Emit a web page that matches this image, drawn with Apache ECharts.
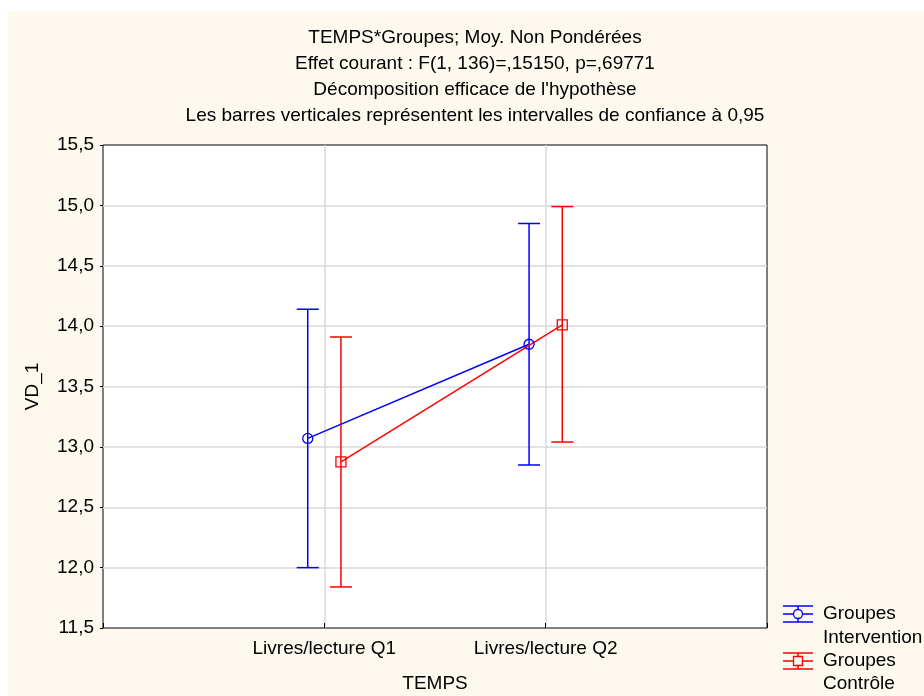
<!DOCTYPE html>
<html>
<head>
<meta charset="utf-8">
<script src="https://cdn.jsdelivr.net/npm/echarts@6/dist/echarts.min.js"></script>
<style>
  html, body { margin: 0; padding: 0; background: #ffffff; }
  #chart { width: 924px; height: 696px; }
</style>
</head>
<body>
<div id="chart"></div>
<script>
// Factor levels on the TEMPS axis
const categories = ['Livres/lecture Q1', 'Livres/lecture Q2'];

// Groupes Intervention: means and 95% confidence limits
const interventionMean = [13.07, 13.85];
const interventionLow  = [12.00, 12.85];
const interventionHigh = [14.14, 14.85];

// Groupes Contrôle: means and 95% confidence limits
const controleMean = [12.875, 14.01];
const controleLow  = [11.84, 13.04];
const controleHigh = [13.91, 14.99];

// Y axis range
const yMin = 11.5, yMax = 15.5, yStep = 0.5;

const FONT = '"Liberation Sans", Arial, sans-serif';
const FS = 19;
const BLUE = '#0000ff';
const RED = '#ff0000';
const dodge = 0.075; // horizontal shift of each group around its category

function meanPoints(means, shift) {
  return means.map((v, i) => [i + 1 + shift, v]);
}
function ciPoints(low, high, shift) {
  return low.map((lo, i) => [i + 1 + shift, lo, high[i]]);
}

function errorBar(color) {
  return function (params, api) {
    const x = api.value(0);
    const lo = api.coord([x, api.value(1)]);
    const hi = api.coord([x, api.value(2)]);
    const half = 11;
    const style = { stroke: color, lineWidth: 1.5, fill: null };
    return {
      type: 'group',
      children: [
        { type: 'line', shape: { x1: lo[0], y1: lo[1], x2: hi[0], y2: hi[1] }, style },
        { type: 'line', shape: { x1: hi[0] - half, y1: hi[1], x2: hi[0] + half, y2: hi[1] }, style },
        { type: 'line', shape: { x1: lo[0] - half, y1: lo[1], x2: lo[0] + half, y2: lo[1] }, style }
      ]
    };
  };
}

function legendIcon(cx, cy, color, marker) {
  const style = { stroke: color, lineWidth: 1.5, fill: null };
  const items = [
    { type: 'line', shape: { x1: cx - 15, y1: cy - 8, x2: cx + 15, y2: cy - 8 }, style },
    { type: 'line', shape: { x1: cx - 15, y1: cy, x2: cx + 15, y2: cy }, style },
    { type: 'line', shape: { x1: cx - 15, y1: cy + 8, x2: cx + 15, y2: cy + 8 }, style },
    { type: 'line', shape: { x1: cx, y1: cy - 8, x2: cx, y2: cy + 8 }, style }
  ];
  if (marker === 'circle') {
    items.push({ type: 'circle', shape: { cx: cx, cy: cy, r: 4.5 }, style: { stroke: color, lineWidth: 1.3, fill: '#fef9ef' } });
  } else {
    items.push({ type: 'rect', shape: { x: cx - 4.5, y: cy - 4.5, width: 9, height: 9 }, style: { stroke: color, lineWidth: 1.3, fill: '#fef9ef' } });
  }
  return items;
}

function legendText(x, y, text) {
  return {
    type: 'text', x: x, y: y,
    style: { text: text, fill: '#000', font: FS + 'px ' + FONT, verticalAlign: 'middle', align: 'left' }
  };
}

const chart = echarts.init(document.getElementById('chart'), null, { renderer: 'canvas' });

chart.setOption({
  backgroundColor: '#ffffff',
  animation: false,
  title: {
    text: 'TEMPS*Groupes; Moy. Non Pondérées\nEffet courant : F(1, 136)=,15150, p=,69771\nDécomposition efficace de l\'hypothèse\nLes barres verticales représentent les intervalles de confiance à 0,95',
    left: 470,
    top: 20,
    textAlign: 'center',
    textStyle: { fontFamily: FONT, fontSize: FS, fontWeight: 'normal', color: '#000', lineHeight: 26, align: 'center' }
  },
  graphic: [
    { type: 'rect', z: -10, shape: { x: 8, y: 11, width: 916, height: 685 }, style: { fill: '#fef9ef' }, silent: true },
    ...legendIcon(798, 614, BLUE, 'circle'),
    legendText(823, 614, 'Groupes'),
    legendText(823, 638, 'Intervention'),
    ...legendIcon(798, 661, RED, 'rect'),
    legendText(823, 661, 'Groupes'),
    legendText(823, 684, 'Contrôle')
  ],
  grid: {
    left: 103, top: 145, right: 157, bottom: 68,
    outerBoundsMode: 'none',
    containLabel: false,
    show: true, backgroundColor: '#ffffff', borderColor: '#000000', borderWidth: 1
  },
  xAxis: {
    type: 'value',
    min: 0, max: 3, interval: 1,
    name: 'TEMPS',
    nameLocation: 'middle',
    nameGap: 46,
    nameTextStyle: { fontFamily: FONT, fontSize: FS, color: '#000' },
    axisLine: { show: false },
    axisTick: { show: true, inside: true, length: 5, lineStyle: { color: '#000', width: 1 } },
    axisLabel: {
      fontFamily: FONT, fontSize: FS, color: '#000', margin: 11,
      formatter: function (v) { return categories[v - 1] || ''; }
    },
    splitLine: { show: true, showMinLine: false, showMaxLine: false, lineStyle: { color: '#d9d9d9', width: 1.5 } }
  },
  yAxis: {
    type: 'value',
    min: yMin, max: yMax, interval: yStep,
    name: 'VD_1',
    nameLocation: 'middle',
    nameGap: 61,
    nameTextStyle: { fontFamily: FONT, fontSize: FS, color: '#000' },
    axisLine: { show: false },
    axisTick: { show: true, length: 3, lineStyle: { color: '#000', width: 1 } },
    axisLabel: {
      fontFamily: FONT, fontSize: FS, color: '#000', margin: 9,
      formatter: function (v) { return v.toFixed(1).replace('.', ','); }
    },
    splitLine: { show: true, showMinLine: false, showMaxLine: false, lineStyle: { color: '#d9d9d9', width: 1.5 } }
  },
  series: [
    {
      name: 'IC Intervention', type: 'custom', renderItem: errorBar(BLUE),
      data: ciPoints(interventionLow, interventionHigh, -dodge), z: 3
    },
    {
      name: 'IC Contrôle', type: 'custom', renderItem: errorBar(RED),
      data: ciPoints(controleLow, controleHigh, dodge), z: 3
    },
    {
      name: 'Groupes Intervention', type: 'line',
      data: meanPoints(interventionMean, -dodge),
      symbol: 'circle', symbolSize: 10, showAllSymbol: true,
      lineStyle: { color: BLUE, width: 1.5 },
      itemStyle: { color: 'rgba(0,0,0,0)', borderColor: BLUE, borderWidth: 1.3 },
      z: 4
    },
    {
      name: 'Groupes Contrôle', type: 'line',
      data: meanPoints(controleMean, dodge),
      symbol: 'rect', symbolSize: 10, showAllSymbol: true,
      lineStyle: { color: RED, width: 1.5 },
      itemStyle: { color: 'rgba(0,0,0,0)', borderColor: RED, borderWidth: 1.3 },
      z: 4
    }
  ]
});
</script>
</body>
</html>
